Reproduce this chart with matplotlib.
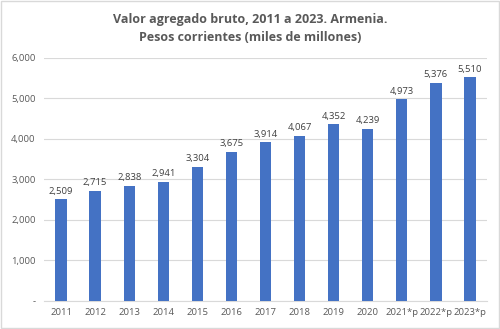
import matplotlib
matplotlib.use("Agg")
import matplotlib.pyplot as plt
from matplotlib.ticker import FuncFormatter

years = ["2011", "2012", "2013", "2014", "2015", "2016", "2017", "2018",
         "2019", "2020", "2021*p", "2022*p", "2023*p"]
values = [2509, 2715, 2838, 2941, 3304, 3675, 3914, 4067, 4352, 4239,
          4973, 5376, 5510]
y_ticks = [0, 1000, 2000, 3000, 4000, 5000, 6000]

plt.rcParams['font.family'] = ['Open Sans', 'DejaVu Sans']
text_color = "#595959"
bar_color = "#4472C4"

fig = plt.figure(figsize=(5.0, 3.29), dpi=100)
ax = fig.add_axes([0.088, 0.085, 0.886, 0.74])

x = range(len(years))
ax.bar(x, values, width=0.33, color=bar_color, zorder=3)
for xi, v in zip(x, values):
    ax.text(xi, v + 90, f"{v:,}", ha="center", va="bottom",
            fontsize=6.8, color="#404040")

ax.set_xlim(-0.5, len(years) - 0.5)
ax.set_ylim(0, 6000)
ax.set_yticks(y_ticks)
ax.yaxis.set_major_formatter(FuncFormatter(lambda v, p: "-" if v == 0 else f"{int(v):,}"))
ax.set_xticks(list(x))
ax.set_xticklabels(years)
ax.tick_params(axis="both", length=0, labelsize=6.8, colors=text_color)
ax.tick_params(axis="y", pad=6)
ax.tick_params(axis="x", pad=5)
ax.grid(axis="y", color="#D9D9D9", linewidth=0.8, zorder=0)
for s in ["top", "right", "left"]:
    ax.spines[s].set_visible(False)
ax.spines["bottom"].set_color("#D9D9D9")

fig.text(0.5, 0.913, "Valor agregado bruto, 2011 a 2023. Armenia.\nPesos corrientes (miles de millones)",
         ha="center", va="center", fontsize=9.0, fontweight="bold",
         color=text_color, linespacing=1.55)

border = plt.Rectangle((0.002, 0.003), 0.996, 0.994, transform=fig.transFigure,
                       fill=False, edgecolor="#D9D9D9", linewidth=1)
fig.patches.append(border)

fig.savefig("out.png", dpi=100)
